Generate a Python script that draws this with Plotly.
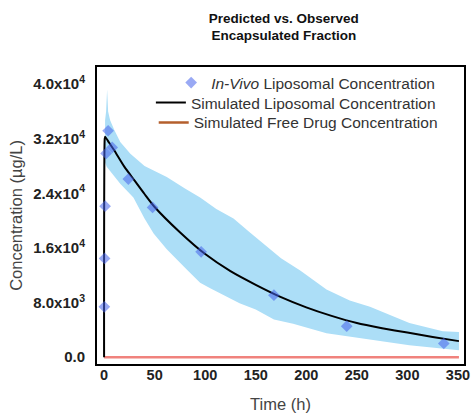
import plotly.graph_objects as go

# Observed in-vivo liposomal concentration
obs_t = [0.25, 0.5, 1, 2, 4, 8, 24, 48, 96, 168, 240, 336]
obs_c = [7370, 14460, 22120, 29840, 33160, 30720, 26080, 21930, 15430, 9080, 4540, 2000]

# Simulated liposomal concentration (black line)
sim_t = [0, 0.6, 1, 5, 10, 20, 30, 40, 50, 75, 100, 125, 150, 175, 200, 225, 250, 275, 300, 325, 351]
sim_c = [0, 31900, 32300, 31400, 30300, 27900, 25900, 23900, 22000, 18300, 15100, 12600, 10600, 8800, 7300, 6050, 5000, 4250, 3600, 2950, 2350]

# Prediction band (upper / lower bounds)
upper_t = [1, 2, 3, 4, 6, 10, 16, 26, 40, 62, 80, 95, 111, 128, 144, 160, 175, 194, 220, 243, 263, 302, 335, 351]
upper_c = [34700, 36000, 39200, 36000, 34700, 33300, 31500, 29800, 28000, 26400, 24700, 23400, 21700, 20300, 18300, 16300, 14500, 12700, 9900, 8300, 7400, 5000, 3800, 3700]
lower_t = [1, 2.6, 16, 29, 40, 49, 62, 82, 95, 105, 134, 150, 168, 187, 220, 258, 302, 351]
lower_c = [28500, 27900, 25400, 23400, 20300, 18100, 15800, 12800, 10900, 10100, 7900, 7000, 5500, 4900, 3500, 2750, 1760, 1030]

# Simulated free drug concentration
free_t = [0, 351]
free_c = [0, 0]

y_tickvals = [0, 8000, 16000, 24000, 32000, 40000]
y_ticktext = ["0.0", "8.0x10<sup>3</sup>", "1.6x10<sup>4</sup>", "2.4x10<sup>4</sup>",
              "3.2x10<sup>4</sup>", "4.0x10<sup>4</sup>"]
x_tickvals = [0, 50, 100, 150, 200, 250, 300, 350]

FONT = "Liberation Sans, Arial, sans-serif"

fig = go.Figure()

band_x = upper_t + lower_t[::-1]
band_y = upper_c + lower_c[::-1]
fig.add_trace(go.Scatter(x=band_x, y=band_y, fill="toself", mode="lines",
                         line=dict(width=0), fillcolor="rgb(172,222,247)",
                         showlegend=False, hoverinfo="skip"))

fig.add_trace(go.Scatter(x=free_t, y=free_c, mode="lines",
                         line=dict(color="rgb(240,130,125)", width=2.5),
                         showlegend=False))

fig.add_trace(go.Scatter(x=sim_t, y=sim_c, mode="lines",
                         line=dict(color="black", width=2, shape="spline", smoothing=0.6),
                         name="Simulated Liposomal Concentration", legend="legend2"))

fig.add_trace(go.Scatter(x=obs_t, y=obs_c, mode="markers",
                         marker=dict(symbol="diamond", size=9, color="rgb(70,98,235)",
                                     opacity=0.55, line=dict(width=0)),
                         name="<i>In-Vivo</i> Liposomal Concentration", legend="legend"))

fig.add_trace(go.Scatter(x=[None], y=[None], mode="lines",
                         line=dict(color="rgb(180,95,45)", width=2.5),
                         name="Simulated Free Drug Concentration", legend="legend3"))

leg_common = dict(xanchor="right", yanchor="middle", bgcolor="rgba(0,0,0,0)",
                  font=dict(family=FONT, size=15.5, color="#333"),
                  borderwidth=0)

fig.update_layout(
    width=473, height=413,
    margin=dict(l=97, r=9, t=67, b=49),
    paper_bgcolor="white", plot_bgcolor="white",
    title=dict(text="<b>Predicted vs. Observed<br>Encapsulated Fraction</b>",
               x=0.6, xanchor="center", y=0.945, yanchor="middle",
               font=dict(family=FONT, size=13.5, color="#111")),
    legend=dict(x=0.935, y=0.946, **leg_common),
    legend2=dict(x=0.937, y=0.879, **leg_common),
    legend3=dict(x=0.942, y=0.812, **leg_common),
    xaxis=dict(range=[-7, 356], tickvals=x_tickvals, showgrid=False, zeroline=False,
               showline=True, linecolor="black", linewidth=2, mirror=True,
               ticks="", ticklabelstandoff=-3, automargin=False,
               tickfont=dict(family=FONT, size=14.5, color="#222", weight="bold"),
               title=dict(text="Time (h)", standoff=17,
                          font=dict(family=FONT, size=16.5, color="#444"))),
    yaxis=dict(range=[-1000, 42500], tickvals=y_tickvals, ticktext=y_ticktext,
               showgrid=False, zeroline=False,
               showline=True, linecolor="black", linewidth=2, mirror=True,
               ticks="", ticklabelstandoff=7, automargin=False,
               tickfont=dict(family=FONT, size=15, color="#222", weight="bold"),
               title=dict(text="Concentration (µg/L)", standoff=6,
                          font=dict(family=FONT, size=16.5, color="#444"))),
)

fig.write_html("out.html")
